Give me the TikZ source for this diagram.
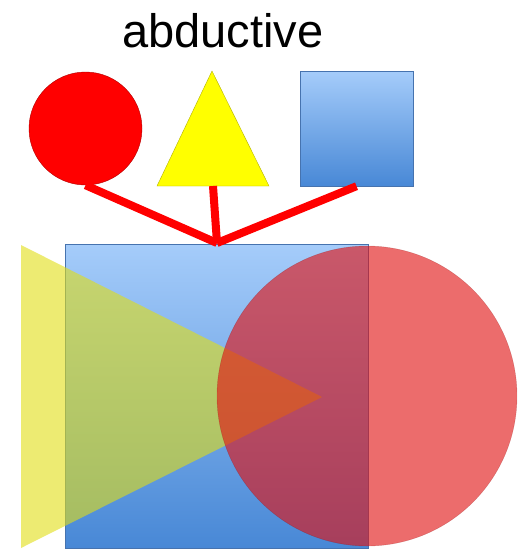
\documentclass[tikz,border=0pt]{standalone}
\usepackage{fontspec}
\setmainfont{Liberation Sans}
\usepackage{xcolor}
\definecolor{shapered}{RGB}{255,0,0}
\definecolor{shapeyellow}{RGB}{255,255,0}
\definecolor{bluetop}{RGB}{165,204,250}
\definecolor{bluebottom}{RGB}{72,136,214}
\definecolor{blueedge}{RGB}{70,115,175}
\definecolor{fadered}{RGB}{225,18,18}
\definecolor{fadeyellow}{RGB}{225,222,20}
\usetikzlibrary{positioning,calc}

\begin{document}
\begin{tikzpicture}[
  x=1pt, y=-1pt,
  toptext/.style={font=\fontsize{47}{56}\selectfont, anchor=base, inner sep=0pt},
  redball/.style={circle, fill=shapered, draw=shapered!70!black, thin, minimum size=113pt, inner sep=0pt},
  bluebox/.style={rectangle, top color=bluetop, bottom color=bluebottom, draw=blueedge, thin, inner sep=0pt},
  yellowtri/.style={fill=shapeyellow, draw=shapeyellow!70!black, thin},
  link/.style={shapered, line width=8pt}
]
\useasboundingbox (0,0) rectangle (525,550);
\node[toptext] (title) at (223,47) {abductive};
% the three small shapes
\node[redball] (smallcirc) at (85.5,128.5) {};
\draw[yellowtri] (212,71) -- (269,186) -- (157,186) -- cycle;
\coordinate (smalltri) at (213,186);
\node[bluebox, minimum width=113pt, minimum height=115pt] (smallbox) at (356.5,128.5) {};
% the combined shape
\node[bluebox, minimum width=303pt, minimum height=304pt] (bigbox) at (216.5,396) {};
\fill[fadeyellow, opacity=0.6] (21,245) -- (322,397) -- (21,548) -- cycle;
\node[circle, fill=fadered, fill opacity=0.62, draw=fadered!60!black, draw opacity=0.3,
  minimum size=300pt, inner sep=0pt] (bigcirc) at (367,396) {};
\coordinate (hub) at (217,243);
\draw[link] (smallcirc.south) -- (hub);
\draw[link] (smalltri) -- (hub);
\draw[link] (smallbox.south) -- (hub);
\end{tikzpicture}
\end{document}
